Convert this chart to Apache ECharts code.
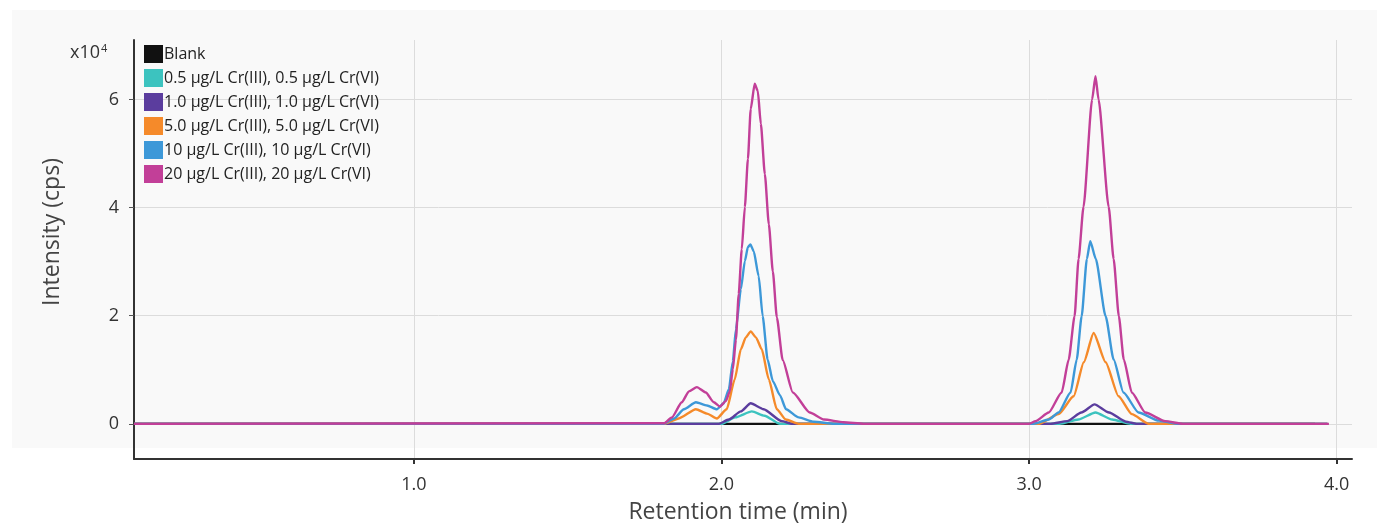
<!DOCTYPE html>
<html>
<head>
<meta charset="utf-8">
<script src="https://cdn.jsdelivr.net/npm/echarts@6/dist/echarts.min.js"></script>
<style>html,body{margin:0;padding:0;background:#fff}#c{width:1394px;height:528px}</style>
</head>
<body>
<div id="c"></div>
<script>
// Series names
const names = ['Blank',
  '0.5 µg/L Cr(III), 0.5 µg/L Cr(VI)',
  '1.0 µg/L Cr(III), 1.0 µg/L Cr(VI)',
  '5.0 µg/L Cr(III), 5.0 µg/L Cr(VI)',
  '10 µg/L Cr(III), 10 µg/L Cr(VI)',
  '20 µg/L Cr(III), 20 µg/L Cr(VI)'];
const colors = ['#111111', '#3cc3bf', '#5b3d9e', '#f58a2a', '#3d98d8', '#c23f98'];

// Retention time (min) and intensity (x10^4 cps)
const tBlank = [0.09, 3.93];
const vBlank = [0, 0];

const t05 = [0.09, 2.00, 2.045, 2.099, 2.14, 2.19, 3.10, 3.16, 3.216, 3.27, 3.33, 3.97];
const v05 = [0, 0, 0.12, 0.23, 0.15, 0, 0, 0.08, 0.21, 0.08, 0, 0];

const t10 = [0.09, 1.99, 2.024, 2.063, 2.095, 2.137, 2.196, 2.23, 3.07, 3.124, 3.17, 3.213, 3.26, 3.315, 3.35, 3.97];
const v10 = [0, 0, 0.08, 0.23, 0.38, 0.27, 0.05, 0, 0, 0.05, 0.21, 0.36, 0.21, 0.04, 0, 0];

const t50 = [0.09, 1.813, 1.861, 1.917, 1.953, 1.985, 2.017, 2.043, 2.063, 2.079, 2.095, 2.112, 2.131, 2.154, 2.180, 2.209, 2.251,
             3.032, 3.096, 3.145, 3.178, 3.210, 3.249, 3.291, 3.334, 3.389, 3.97];
const v50 = [0, 0, 0.10, 0.27, 0.19, 0.10, 0.27, 0.82, 1.38, 1.60, 1.71, 1.60, 1.38, 0.82, 0.27, 0.08, 0,
             0, 0.18, 0.51, 1.14, 1.68, 1.14, 0.51, 0.18, 0, 0];

const t100 = [0.09, 1.810, 1.846, 1.878, 1.917, 1.953, 1.985, 2.007, 2.024, 2.037, 2.047, 2.063, 2.076, 2.086, 2.094, 2.105, 2.121,
              2.134, 2.150, 2.167, 2.190, 2.210, 2.251, 2.300, 2.365,
              3.015, 3.064, 3.096, 3.135, 3.155, 3.171, 3.188, 3.199, 3.217, 3.249, 3.275, 3.307, 3.356, 3.422, 3.486, 3.97];
const v100 = [0, 0, 0.10, 0.27, 0.40, 0.34, 0.27, 0.38, 0.64, 1.16, 1.75, 2.49, 3.01, 3.27, 3.32, 3.19, 2.73,
              1.99, 1.19, 0.79, 0.53, 0.27, 0.12, 0.04, 0,
              0, 0.08, 0.21, 0.58, 1.19, 1.99, 3.05, 3.38, 3.05, 1.99, 1.19, 0.58, 0.21, 0.06, 0, 0];

const t200 = [0.09, 1.813, 1.839, 1.871, 1.894, 1.920, 1.949, 1.975, 1.995, 2.014, 2.027, 2.037, 2.047, 2.056, 2.066, 2.076, 2.086,
              2.095, 2.108, 2.118, 2.128, 2.141, 2.154, 2.167, 2.180, 2.199, 2.232, 2.287, 2.333, 2.397, 2.462,
              3.000, 3.021, 3.064, 3.106, 3.129, 3.148, 3.161, 3.177, 3.205, 3.216, 3.226, 3.259, 3.275, 3.292, 3.308, 3.334, 3.378, 3.443, 3.50, 3.975];
const v200 = [0, 0.01, 0.12, 0.40, 0.60, 0.68, 0.58, 0.40, 0.32, 0.42, 0.60, 1.01, 1.56, 2.40, 3.23, 4.01, 4.90,
              5.82, 6.29, 6.16, 5.55, 4.62, 3.69, 2.82, 1.97, 1.18, 0.58, 0.21, 0.08, 0.03, 0,
              0, 0.05, 0.21, 0.58, 1.19, 1.99, 3.05, 4.01, 6.00, 6.43, 6.00, 4.01, 3.05, 1.99, 1.19, 0.58, 0.21, 0.05, 0, 0];

// Axis ticks
const xTicks = [1, 2, 3, 4];
const yTicks = [0, 2, 4, 6];

const times = [tBlank, t05, t10, t50, t100, t200];
const vals = [vBlank, v05, v10, v50, v100, v200];

const font = '"Open Sans", "Noto Sans", sans-serif';
const series = names.map((n, i) => ({
  name: n,
  type: 'line',
  data: times[i].map((t, k) => [t, vals[i][k]]),
  showSymbol: false,
  smooth: 0.2,
  smoothMonotone: 'x',
  lineStyle: { color: colors[i], width: 2.4 },
  itemStyle: { color: colors[i] },
  z: 2 + i
}));

const chart = echarts.init(document.getElementById('c'));
chart.setOption({
  animation: false,
  backgroundColor: '#ffffff',
  graphic: [
    { type: 'rect', z: -10, silent: true, shape: { x: 12, y: 10, width: 1365, height: 438 }, style: { fill: '#f9f9f9' } },
    { type: 'text', left: 70, top: 43, z: 10, style: { text: '{a|x10}{b|4}', rich: { a: { fontSize: 18, fontFamily: font, fill: '#333' }, b: { fontSize: 11, fontFamily: font, fill: '#333', verticalAlign: 'top', padding: [0, 0, 9, 1] } } } },
    { type: 'text', x: 52, y: 232, rotation: Math.PI / 2, z: 10, style: { text: 'Intensity (cps)', fontSize: 23, fontFamily: font, fill: '#444', align: 'center', verticalAlign: 'middle' } },
    { type: 'text', x: 738, y: 512, z: 10, style: { text: 'Retention time (min)', fontSize: 23, fontFamily: font, fill: '#444', align: 'center', verticalAlign: 'middle' } }
  ],
  legend: {
    orient: 'vertical', left: 139, top: 40,
    itemWidth: 19, itemHeight: 18, itemGap: 6,
    icon: 'rect',
    textStyle: { fontSize: 16, fontFamily: font, color: '#222', padding: [0, 0, 0, -4] },
    data: names
  },
  grid: { left: 134, right: 42, top: 40, bottom: 69 },
  xAxis: {
    type: 'value', min: 0.09, max: 4.05,
    axisLine: { show: true, onZero: false, lineStyle: { color: '#333', width: 2 } },
    axisTick: { show: true, customValues: xTicks, length: 5, lineStyle: { color: '#333', width: 2 } },
    axisLabel: { customValues: xTicks, formatter: v => v.toFixed(1), fontSize: 18, fontFamily: font, color: '#333', margin: 17 },
    splitLine: { show: true, lineStyle: { color: '#dcdcdc', width: 1 } }
  },
  yAxis: {
    type: 'value', min: -0.65, max: 7.1,
    axisLine: { show: true, lineStyle: { color: '#333', width: 2 } },
    axisTick: { show: true, customValues: yTicks, length: 5, lineStyle: { color: '#555', width: 1 } },
    axisLabel: { customValues: yTicks, fontSize: 18, fontFamily: font, color: '#333', margin: 15 },
    splitLine: { show: true, lineStyle: { color: '#dcdcdc', width: 1 } }
  },
  series: series
});
</script>
</body>
</html>
